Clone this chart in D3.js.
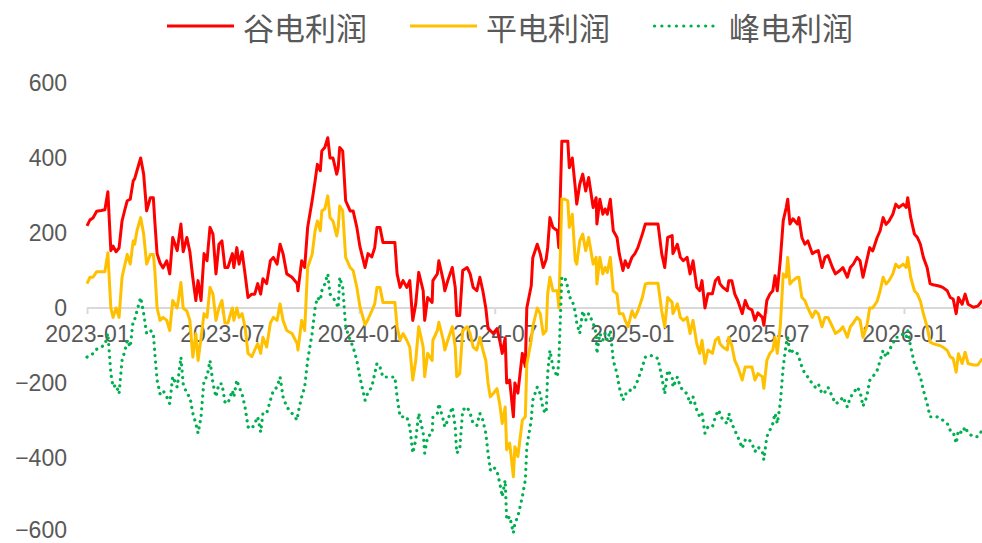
<!DOCTYPE html>
<html><head><meta charset="utf-8">
<script src="https://cdn.jsdelivr.net/npm/d3@7"></script>
<style>html,body{margin:0;padding:0;background:#fff;} svg{display:block;}</style>
</head><body><svg id="chart" width="982" height="543"></svg>
<script>
const startDate = "2023-01-01";
// days since startDate for each observation
const dayOffsets = [0,4,8,13,19,24,28,32,35,39,43,47,51,54,58,62,64,67,72,76,80,85,89,91,94,98,102,107,111,115,121,126,129,134,138,142,146,149,153,157,161,165,169,173,177,181,185,
189,195,197,201,204,208,212,216,221,225,229,233,236,241,246,250,255,259,263,268,275,282,283,288,292,296,302,306,309,313,315,319,323,326,330,335,337,339,343,347,353,357,362,366,373,377,
382,386,389,393,397,402,408,413,416,420,424,429,433,437,441,445,451,453,457,463,464,470,472,478,480,484,490,494,496,500,504,510,514,518,523,527,531,535,
538,541,545,550,554,557,561,563,567,572,574,578,584,588,590,596,598,604,608,612,616,618,621,625,631,633,637,641,645,647,651,655,657,661,
665,669,673,679,683,684,688,692,695,698,702,706,711,714,719,722,726,731,735,739,745,749,753,759,766,771,775,779,785,786,792,796,800,805,809,813,818,822,825,829,833,839,843,847,849,853,859,
861,865,869,873,879,883,887,892,896,900,906,908,912,916,920,923,926,930,934,938,940,943,947,953,955,959,963,967,973,977,981,986,990,994,1000,1004,1010,1014,1020,1024,1028,1033,1037,1041,1046,1050,
1054,1060,1064,1068,1072,1076,1081,1085,1089,1095,1099,1101,1105,1110,1114,1118,1122,1127,1131,1135,1140,1144,1148,1154,1158,1162,1166,1169,1174,1178,1182,1189,1195,1201];

const valleyProfit = [219,235,240,258,260,262,310,153,165,150,160,232,264,286,290,339,345,366,400,357,259,294,294,230,145,120,107,126,91,188,153,224,150,188,150,80,20,73,20,145,126,215,197,91,170,179,108,
108,145,108,161,117,150,91,28,37,37,65,37,78,65,126,135,117,170,145,91,82,65,46,126,108,215,286,339,383,366,419,428,454,400,400,357,374,428,419,286,259,259,215,165,108,145,
136,161,215,215,175,175,175,175,91,55,73,55,73,-33,11,95,46,-33,28,15,73,91,126,73,46,73,108,55,-20,-20,100,108,91,55,46,82,46,0,
-55,-60,-68,-55,-90,-121,-80,-200,-192,-290,-200,-227,-121,-156,0,60,134,170,145,108,130,161,241,215,206,161,445,445,445,374,400,321,277,330,
357,312,348,268,294,224,290,250,264,250,290,206,188,145,100,126,108,135,145,161,197,224,224,224,224,145,108,188,193,145,170,135,126,135,91,126,55,46,73,0,38,38,73,82,65,55,46,
73,73,37,20,-15,20,0,-5,-33,-13,-25,-46,20,37,46,86,46,126,233,268,290,224,238,224,241,188,170,179,145,150,153,108,135,140,108,91,100,108,82,108,117,135,126,82,126,161,
152,188,206,241,223,232,250,277,268,277,268,294,241,197,188,170,135,108,65,62,60,58,55,46,28,24,-15,28,10,37,10,2,5,20];

const flatProfit = [65,82,82,97,97,97,147,0,-25,0,-25,82,117,143,117,179,170,206,241,197,117,143,143,100,0,-33,-25,-33,-60,20,0,68,0,-8,-33,-131,-68,-140,-80,-15,-25,55,37,-33,0,20,-40,
-40,0,-33,0,-25,-15,-50,-121,-130,-112,-95,-121,-78,-104,-40,-25,-33,11,-33,-60,-68,-95,-112,-33,-60,108,143,206,232,206,259,264,299,241,232,192,215,272,259,135,108,100,55,5,-45,-30,
-8,11,55,55,15,15,15,15,-50,-86,-68,-86,-104,-192,-140,-50,-104,-183,-121,-140,-86,-60,-38,-86,-112,-86,-50,-104,-183,-175,-60,-50,-68,-104,-112,-78,-112,-140,
-200,-237,-228,-215,-260,-308,-264,-378,-360,-450,-370,-396,-299,-290,-150,-86,-50,0,-15,-70,-60,38,82,46,46,0,291,290,286,215,250,126,117,179,
197,153,188,117,135,64,135,91,108,95,135,46,37,-15,-15,-33,-50,-8,-25,-8,28,64,66,66,66,-8,-50,28,15,-15,11,-25,-33,-25,-68,-33,-95,-121,-86,-148,-112,-121,-86,-78,-95,-104,-112,
-78,-100,-140,-157,-192,-157,-157,-157,-192,-175,-183,-214,-140,-121,-112,-78,-121,-50,91,82,135,64,73,82,82,28,20,0,-25,-8,-15,-50,-25,-25,-50,-68,-60,-50,-78,-50,-40,-25,-33,-78,-50,0,
0,18,46,82,64,73,91,117,108,117,108,135,82,46,37,18,-15,-50,-91,-95,-98,-100,-104,-113,-130,-135,-171,-122,-148,-118,-148,-152,-152,-135];

const peakProfit = [-131,-125,-122,-110,-104,-98,-68,-175,-211,-205,-229,-140,-113,-86,-104,-33,-30,-8,28,-15,-68,-60,-68,-122,-192,-229,-220,-237,-255,-183,-211,-131,-202,-229,-237,-281,-308,-334,-290,-192,-183,-140,-202,-237,-202,-202,-250,
-255,-220,-237,-192,-211,-229,-264,-317,-322,-308,-290,-331,-281,-281,-246,-220,-211,-184,-237,-264,-281,-299,-281,-237,-211,-140,-68,0,28,20,46,64,91,37,28,11,0,82,55,-50,-86,-104,-140,-184,-246,-225,
-211,-175,-148,-157,-184,-184,-184,-184,-237,-290,-290,-290,-317,-387,-352,-281,-334,-387,-343,-334,-290,-281,-255,-299,-317,-299,-264,-317,-387,-378,-272,-264,-281,-308,-313,-281,-299,-334,
-387,-432,-423,-435,-470,-503,-459,-565,-556,-600,-574,-556,-503,-459,-370,-299,-246,-211,-229,-272,-280,-175,-113,-157,-184,-140,82,82,55,30,20,-10,-40,-68,
-8,-33,-15,-40,-68,-122,-68,-86,-68,-86,-60,-140,-175,-211,-246,-229,-229,-211,-211,-192,-157,-131,-127,-127,-135,-184,-229,-166,-184,-211,-184,-211,-220,-229,-255,-237,-272,-290,-281,-334,-317,-317,-290,-272,-280,-299,-308,
-281,-308,-326,-343,-374,-352,-348,-361,-383,-370,-383,-405,-343,-326,-308,-281,-308,-255,-157,-95,-78,-122,-113,-122,-131,-157,-175,-184,-202,-211,-202,-229,-224,-211,-237,-255,-250,-237,-264,-237,-229,-211,-222,-262,-237,-193,
-184,-166,-140,-113,-131,-113,-95,-78,-78,-69,-78,-60,-104,-148,-166,-184,-219,-255,-290,-290,-290,-295,-299,-308,-326,-330,-361,-326,-334,-317,-334,-343,-343,-326];

const yTickValues = [-600,-400,-200,0,200,400,600];
const xTickLabels = ["2023-01","2023-07","2024-01","2024-07","2025-01","2025-07","2026-01"];
const seriesNames = ["谷电利润","平电利润","峰电利润"];
const seriesColors = ["#FF0000","#FFC000","#00B050"];

const svg = d3.select("#chart");
const parseDay = d3.timeParse("%Y-%m-%d");
const parseMonth = d3.timeParse("%Y-%m");
const t0 = parseDay(startDate);
const dates = dayOffsets.map(d => d3.timeDay.offset(t0, d));
const xTicks = xTickLabels.map(parseMonth);

const x = d3.scaleTime().domain([xTicks[0], xTicks[xTicks.length - 1]]).range([87, 904]);
const y = d3.scaleLinear().domain([-600, 600]).range([533, 83]);

const numFont = "'Liberation Sans', Arial, sans-serif";
const cjkFont = "'Noto Sans CJK SC', 'Noto Sans', sans-serif";
const textColor = "#595959";

// Y axis (labels only)
const gy = svg.append("g").attr("transform", "translate(72,0)")
  .call(d3.axisLeft(y).tickValues(yTickValues).tickSize(0).tickPadding(5).tickFormat(d3.format("d")));
gy.select(".domain").remove();
gy.selectAll("text").attr("fill", textColor).style("font-family", numFont).style("font-size", "23px");
// keep the lowest label inside the canvas
gy.selectAll(".tick").filter(d => d === yTickValues[0]).select("text").attr("dy", "0.2em");

// X axis along zero
svg.append("line")
  .attr("x1", x.range()[0]).attr("x2", x(dates[dates.length - 1]))
  .attr("y1", y(0)).attr("y2", y(0))
  .attr("stroke", "#d9d9d9").attr("stroke-width", 2);
const gx = svg.append("g").attr("transform", `translate(0,${y(0)})`)
  .call(d3.axisBottom(x).tickValues(xTicks).tickFormat(d3.timeFormat("%Y-%m")).tickSize(6).tickPadding(12));
gx.select(".domain").remove();
gx.selectAll(".tick line").attr("stroke", "#d9d9d9").attr("stroke-width", 2);
gx.selectAll("text").attr("fill", textColor).style("font-family", numFont).style("font-size", "23px");

// Lines
const series = [valleyProfit, flatProfit, peakProfit];
const line = d3.line().x((d, i) => x(dates[i])).y(d => y(d));
series.forEach((vals, k) => {
  const p = svg.append("path").datum(vals)
    .attr("d", line)
    .attr("fill", "none")
    .attr("stroke", seriesColors[k])
    .attr("stroke-linejoin", "round");
  if (k === 2) {
    p.attr("stroke-width", 3.2).attr("stroke-dasharray", "0.1 6.3").attr("stroke-linecap", "round");
  } else {
    p.attr("stroke-width", 3);
  }
});

// Legend
const legendX = [167, 410, 653];
const lg = svg.append("g");
seriesNames.forEach((name, k) => {
  const l = lg.append("line")
    .attr("x1", legendX[k]).attr("x2", legendX[k] + 67)
    .attr("y1", 26).attr("y2", 26)
    .attr("stroke", seriesColors[k]);
  if (k === 2) {
    l.attr("stroke-width", 3.2).attr("stroke-dasharray", "0.1 7.2").attr("stroke-linecap", "round").attr("x1", legendX[k] + 1.5);
  } else {
    l.attr("stroke-width", 3);
  }
  lg.append("text")
    .attr("x", legendX[k] + 76).attr("y", 26)
    .attr("dominant-baseline", "central")
    .attr("fill", textColor)
    .style("font-family", cjkFont).style("font-size", "31px")
    .text(name);
});
</script>
</body></html>
